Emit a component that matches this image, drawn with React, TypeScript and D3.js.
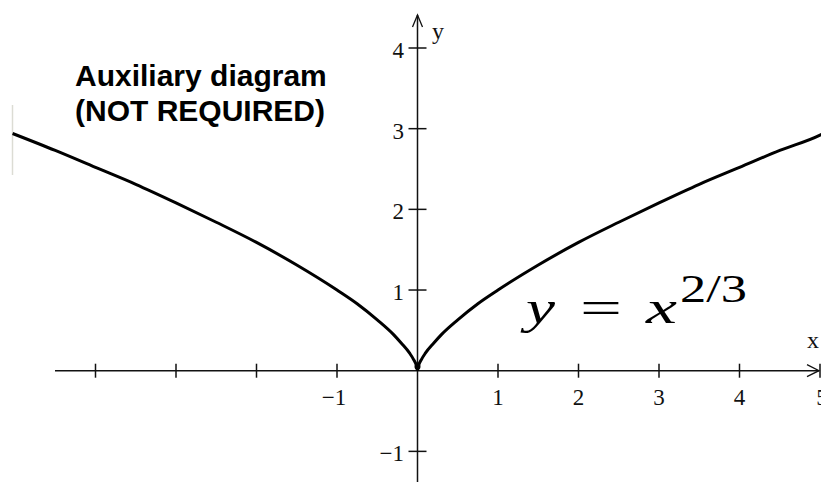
import React from "react";
import * as d3 from "d3";

// Curve values (y = x^(2/3)), two branches meeting at the cusp
const leftX = [-5.03, -4.5, -4, -3.5, -3, -2.5, -2, -1.5, -1, -0.75, -0.5, -0.3, -0.2, -0.1, -0.05, -0.01, 0];
const leftY = [2.94, 2.73, 2.52, 2.31, 2.08, 1.84, 1.59, 1.31, 1.0, 0.83, 0.63, 0.45, 0.34, 0.22, 0.14, 0.05, 0];
const rightX = [0, 0.01, 0.05, 0.1, 0.2, 0.3, 0.5, 0.75, 1, 1.5, 2, 2.5, 3, 3.5, 4, 4.5, 5, 5.02];
const rightY = [0, 0.05, 0.14, 0.22, 0.34, 0.45, 0.63, 0.83, 1.0, 1.31, 1.59, 1.84, 2.08, 2.31, 2.52, 2.73, 2.92, 2.93];

const xTicks = [-4, -3, -2, -1, 1, 2, 3, 4, 5];
const xTickLabels = ["", "", "", "−1", "1", "2", "3", "4", "5"];
const yTicks = [-1, 1, 2, 3, 4];
const yTickLabels = ["−1", "1", "2", "3", "4"];

const titleLines = ["Auxiliary diagram", "(NOT REQUIRED)"];

const W = 821;
const H = 482;

export default function App() {
  const x = d3.scaleLinear().domain([0, 5]).range([417.5, 820]);
  const y = d3.scaleLinear().domain([0, 4]).range([370.7, 48]);

  const line = d3
    .line<[number, number]>()
    .x((d) => x(d[0]))
    .y((d) => y(d[1]))
    .curve(d3.curveMonotoneX);

  const leftPts: [number, number][] = leftX.map((v, i) => [v, leftY[i]]);
  const rightPts: [number, number][] = rightX.map((v, i) => [v, rightY[i]]);

  const x0 = x(0);
  const y0 = y(0);
  const serif = "'Liberation Serif', 'Times New Roman', serif";

  return (
    <svg
      width={W}
      height={H}
      style={{ position: "absolute", left: 0, top: 0, background: "#fff" }}
    >
      <rect width={W} height={H} fill="#fff" />
      {/* faint left border */}
      <line x1={12.5} x2={12.5} y1={105} y2={175} stroke="#dcdcd4" strokeWidth={1.5} />

      {/* x axis */}
      <line x1={55} x2={819} y1={y0} y2={y0} stroke="#111" strokeWidth={1.5} />
      <path
        d={`M${819 - 12},${y0 - 6} L${819},${y0} L${819 - 12},${y0 + 6}`}
        fill="none"
        stroke="#111"
        strokeWidth={1.3}
      />
      {xTicks.map((t, i) => (
        <g key={"xt" + t}>
          <line x1={x(t)} x2={x(t)} y1={y0 - 7} y2={y0 + 7} stroke="#111" strokeWidth={1.5} />
          {xTickLabels[i] && (
            <text
              x={x(t) - (t < 0 ? 3 : 0) + (t === 5 ? 2 : 0)}
              y={405}
              textAnchor="middle"
              fontFamily={serif}
              fontSize={23}
              fill="#111"
            >
              {xTickLabels[i]}
            </text>
          )}
        </g>
      ))}
      <text x={807} y={348} fontFamily={serif} fontSize={24} fill="#111">
        x
      </text>

      {/* y axis */}
      <line x1={x0} x2={x0} y1={15} y2={H} stroke="#111" strokeWidth={1.5} />
      <path
        d={`M${x0 - 5},${15 + 12} L${x0},${15} L${x0 + 5},${15 + 12}`}
        fill="none"
        stroke="#111"
        strokeWidth={1.3}
      />
      {yTicks.map((t, i) => (
        <g key={"yt" + t}>
          <line x1={x0 - 9} x2={x0 + 9} y1={y(t)} y2={y(t)} stroke="#111" strokeWidth={1.5} />
          <text
            x={404}
            y={y(t) + 10}
            textAnchor="end"
            fontFamily={serif}
            fontSize={23}
            fill="#111"
          >
            {yTickLabels[i]}
          </text>
        </g>
      ))}
      <text x={432} y={39} fontFamily={serif} fontSize={24} fill="#111">
        y
      </text>

      {/* curve */}
      <path d={line(leftPts) || ""} fill="none" stroke="#000" strokeWidth={3} strokeLinejoin="round" />
      <path d={line(rightPts) || ""} fill="none" stroke="#000" strokeWidth={3} strokeLinejoin="round" />
      <circle cx={x0} cy={y0 - 4} r={3} fill="#000" />

      {/* title */}
      {titleLines.map((s, i) => (
        <text
          key={s}
          x={75}
          y={86 + i * 35}
          fontFamily="'Liberation Sans', Arial, sans-serif"
          fontWeight="bold"
          fontSize={30}
          fill="#000"
        >
          {s}
        </text>
      ))}

      {/* equation */}
      <g fontFamily={serif} fill="#000">
        <text x={526} y={323} fontSize={46} fontStyle="italic" textLength={29} lengthAdjust="spacingAndGlyphs">
          y
        </text>
        <text x={580} y={323} fontSize={46} textLength={42} lengthAdjust="spacingAndGlyphs">
          =
        </text>
        <text x={646} y={323} fontSize={46} fontStyle="italic" textLength={31} lengthAdjust="spacingAndGlyphs">
          x
        </text>
        <text x={680} y={302} fontSize={40} textLength={67} lengthAdjust="spacingAndGlyphs">
          2/3
        </text>
      </g>
    </svg>
  );
}
